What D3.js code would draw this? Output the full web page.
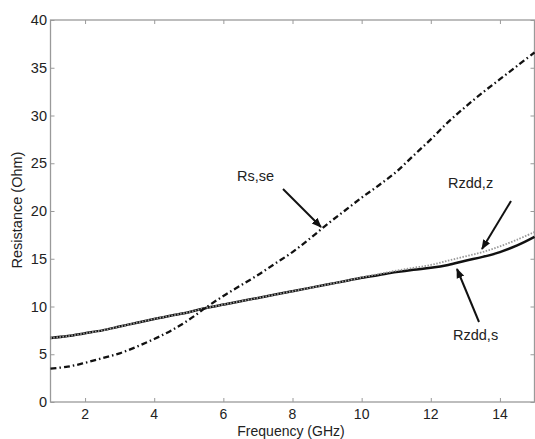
<!DOCTYPE html>
<html>
<head>
<meta charset="utf-8">
<script src="https://cdn.jsdelivr.net/npm/d3@7"></script>
<style>
  body { margin: 0; background: #fff; }
  svg { display: block; font-family: "Liberation Sans", Arial, sans-serif; }
</style>
</head>
<body>
<svg id="chart" width="535" height="439"></svg>
<script>
// frequency in GHz, resistance in Ohm
var freq = [1, 1.5, 2, 2.5, 3, 3.5, 4, 4.5, 5, 5.5, 6, 6.5, 7, 7.5, 8, 8.5,
  9, 9.5, 10, 10.5, 11, 11.5, 12, 12.5, 13, 13.5, 14, 14.5, 15];
var rsSe = [3.5, 3.7, 4.1, 4.6, 5.1, 5.8, 6.6, 7.5, 8.6, 9.9, 11.1, 12.2, 13.3, 14.5, 15.7, 17.1,
  18.6, 20.0, 21.4, 22.7, 24.1, 25.8, 27.5, 29.3, 30.9, 32.4, 33.8, 35.2, 36.6];
var rzddS = [6.7, 6.9, 7.2, 7.5, 7.9, 8.3, 8.7, 9.05, 9.4, 9.85, 10.2, 10.55, 10.9, 11.25, 11.6, 11.95,
  12.3, 12.65, 13.0, 13.3, 13.6, 13.85, 14.05, 14.35, 14.8, 15.2, 15.7, 16.4, 17.3];
var rzddZ = [6.7, 6.9, 7.2, 7.5, 7.9, 8.3, 8.7, 9.05, 9.4, 9.85, 10.2, 10.55, 10.9, 11.25, 11.6, 11.95,
  12.3, 12.65, 13.05, 13.4, 13.75, 14.05, 14.35, 14.8, 15.25, 15.7, 16.3, 17.0, 17.8];
var xTicks = [2, 4, 6, 8, 10, 12, 14];
var yTicks = [0, 5, 10, 15, 20, 25, 30, 35, 40];

var svg = d3.select('#chart');
var pLeft = 50.5, pRight = 534.5, pTop = 20, pBottom = 402;

var x = d3.scaleLinear().domain([1, 15]).range([pLeft, pRight]);
var y = d3.scaleLinear().domain([0, 40]).range([pBottom, pTop]);

// frame
svg.append('rect')
  .attr('x', pLeft).attr('y', pTop)
  .attr('width', pRight - pLeft).attr('height', pBottom - pTop)
  .attr('fill', 'none').attr('stroke', '#9a9a9a').attr('stroke-width', 1.3);

// ticks, all pointing inwards
var tickLen = 4;
function ticks(axis, scale, vals, pos, dir) {
  var g = svg.append('g')
    .attr('transform', axis === 'x' ? 'translate(0,' + pos + ')' : 'translate(' + pos + ',0)');
  var ax = (axis === 'x' ? d3.axisBottom(scale) : d3.axisLeft(scale))
    .tickValues(vals).tickSize(tickLen * dir).tickFormat('');
  g.call(ax);
  g.select('.domain').remove();
  g.selectAll('line').attr('stroke', '#9a9a9a').attr('stroke-width', 1);
}
ticks('x', x, xTicks, pBottom, -1);
ticks('x', x, xTicks, pTop, 1);
ticks('y', y, yTicks, pLeft, -1);
ticks('y', y, yTicks, pRight, 1);

// tick labels
svg.append('g').selectAll('text').data(xTicks).enter().append('text')
  .attr('x', function(d) { return x(d); })
  .attr('y', 419)
  .attr('text-anchor', 'middle')
  .attr('font-size', 14).attr('fill', '#222')
  .text(function(d) { return d; });

svg.append('g').selectAll('text').data(yTicks).enter().append('text')
  .attr('x', 47)
  .attr('y', function(d) { return y(d) + 5; })
  .attr('text-anchor', 'end')
  .attr('font-size', 14.5).attr('fill', '#222')
  .text(function(d) { return d; });

// axis titles
svg.append('text')
  .attr('x', 291).attr('y', 436)
  .attr('text-anchor', 'middle').attr('font-size', 14).attr('fill', '#222')
  .text('Frequency (GHz)');

svg.append('text')
  .attr('transform', 'translate(22,210) rotate(-90)')
  .attr('text-anchor', 'middle').attr('font-size', 14.5).attr('fill', '#222')
  .text('Resistance (Ohm)');

// curves
var line = d3.line()
  .x(function(d) { return x(d[0]); })
  .y(function(d) { return y(d[1]); })
  .curve(d3.curveCatmullRom);

function pairs(vals) { return freq.map(function(f, i) { return [f, vals[i]]; }); }

var plot = svg.append('g');

plot.append('path').datum(pairs(rzddS))
  .attr('d', line).attr('fill', 'none')
  .attr('stroke', '#111').attr('stroke-width', 2.5);

plot.append('path').datum(pairs(rzddZ))
  .attr('d', line).attr('fill', 'none')
  .attr('stroke', '#999').attr('stroke-width', 1.8)
  .attr('stroke-dasharray', '1.5,1.5');

plot.append('path').datum(pairs(rsSe))
  .attr('d', line).attr('fill', 'none')
  .attr('stroke', '#111').attr('stroke-width', 2.3)
  .attr('stroke-dasharray', '6,3,1.5,3');

// annotations
svg.append('defs').append('marker')
  .attr('id', 'head')
  .attr('viewBox', '0 0 10 10')
  .attr('refX', 9).attr('refY', 5)
  .attr('markerWidth', 5).attr('markerHeight', 5)
  .attr('markerUnits', 'strokeWidth')
  .attr('orient', 'auto')
  .append('path').attr('d', 'M0,1 L10,5 L0,9 z').attr('fill', '#111');

var notes = [
  { label: 'Rs,se', tx: 237, ty: 181, x1: 283, y1: 189, x2: 321, y2: 227 },
  { label: 'Rzdd,z', tx: 448, ty: 188, x1: 511, y1: 201, x2: 482, y2: 249 },
  { label: 'Rzdd,s', tx: 453, ty: 340, x1: 479, y1: 322, x2: 457, y2: 269 }
];

notes.forEach(function(n) {
  svg.append('text')
    .attr('x', n.tx).attr('y', n.ty)
    .attr('font-size', 14.5).attr('fill', '#222')
    .text(n.label);
  svg.append('line')
    .attr('x1', n.x1).attr('y1', n.y1)
    .attr('x2', n.x2).attr('y2', n.y2)
    .attr('stroke', '#111').attr('stroke-width', 2)
    .attr('marker-end', 'url(#head)');
});
</script>
</body>
</html>
